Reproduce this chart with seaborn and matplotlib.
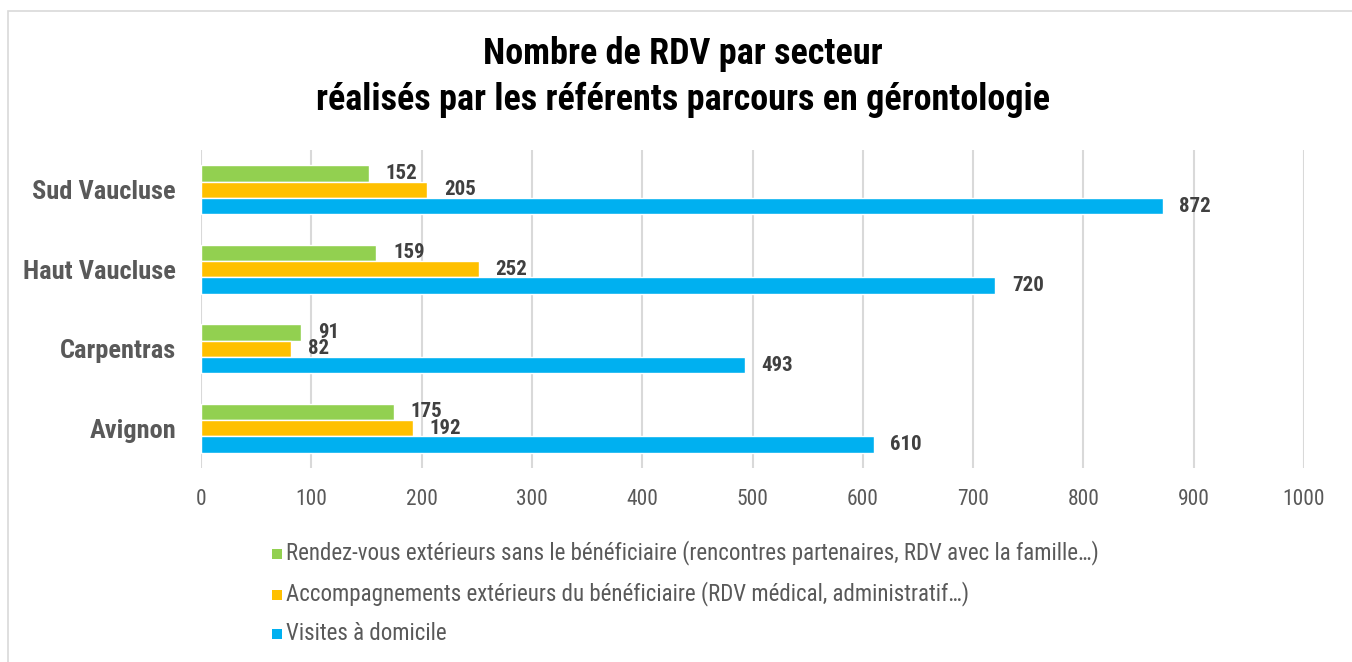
import matplotlib
matplotlib.use("Agg")
import os
import matplotlib.pyplot as plt
import seaborn as sns
import pandas as pd
from matplotlib.patches import Rectangle, Patch
from matplotlib import font_manager
from matplotlib.font_manager import FontProperties

# Données
secteurs = ["Sud Vaucluse", "Haut Vaucluse", "Carpentras", "Avignon"]
series = [
    "Rendez-vous extérieurs sans le bénéficiaire (rencontres partenaires, RDV avec la famille…)",
    "Accompagnements extérieurs du bénéficiaire (RDV médical, administratif…)",
    "Visites à domicile",
]
rdv_exterieurs = [152, 159, 91, 175]
accompagnements = [205, 252, 82, 192]
visites_domicile = [872, 720, 493, 610]
couleurs = ["#92D050", "#FFC000", "#00B0F0"]
x_ticks = [0, 100, 200, 300, 400, 500, 600, 700, 800, 900, 1000]

df = pd.DataFrame({
    "secteur": secteurs * 3,
    "type": [series[0]] * 4 + [series[1]] * 4 + [series[2]] * 4,
    "valeur": rdv_exterieurs + accompagnements + visites_domicile,
})

sns.set_theme(style="white")
plt.rcParams["font.family"] = ["Liberation Sans", "DejaVu Sans"]

# police étroite (proche de Arial Narrow)
files = {os.path.basename(f): f for f in font_manager.findSystemFonts()}
candidats = [
    ("LiberationSansNarrow-Regular.ttf", "LiberationSansNarrow-Bold.ttf"),
    ("RobotoCondensed-Regular.ttf", "RobotoCondensed-Bold.ttf"),
    ("DejaVuSansCondensed.ttf", "DejaVuSansCondensed-Bold.ttf"),
]
fp_reg = FontProperties(family="Liberation Sans")
fp_bold = FontProperties(family="Liberation Sans", weight="bold")
for r, b in candidats:
    if r in files and b in files:
        fp_reg, fp_bold = FontProperties(fname=files[r]), FontProperties(fname=files[b])
        break

fig = plt.figure(figsize=(13.52, 6.62), dpi=100)
ax = fig.add_axes([201 / 1352, 1 - 468 / 662, (1304 - 201) / 1352, (468 - 150) / 662])

sns.barplot(data=df, y="secteur", x="valeur", hue="type", order=secteurs,
            hue_order=series, palette=couleurs, orient="h", width=0.62,
            saturation=1, ax=ax, legend=False)

for cont in ax.containers:
    ax.bar_label(cont, padding=12, fontproperties=fp_bold, fontsize=15, color="#404040")

ax.set_xlim(0, 1000)
ax.set_ylim(3.5, -0.5)
ax.set_xticks(x_ticks)
ax.set_xticklabels([str(t) for t in x_ticks], fontproperties=fp_reg, fontsize=15.5, color="#595959")
ax.tick_params(axis="x", length=0, pad=15)
ax.tick_params(axis="y", length=0, pad=18)
ax.set_yticks(range(len(secteurs)))
ax.set_yticklabels(secteurs, fontproperties=fp_bold, fontsize=19, color="#595959")
ax.set_xlabel("")
ax.set_ylabel("")
ax.grid(axis="x", color="#D9D9D9", linewidth=1.5)
ax.set_axisbelow(True)
for s in ax.spines.values():
    s.set_visible(False)

fig.text(0.505, 1 - 77 / 662, "Nombre de RDV par secteur\nréalisés par les référents parcours en gérontologie",
         ha="center", va="center", fontproperties=fp_bold, fontsize=26, color="black",
         linespacing=1.35)

handles = [Patch(facecolor=c, edgecolor="none") for c in couleurs]
leg = fig.legend(handles, series, loc="upper left", bbox_to_anchor=(264 / 1352, 1 - 532 / 662),
                 frameon=False, prop=fp_reg, labelcolor="#595959", handlelength=0.55,
                 handleheight=0.55, handletextpad=0.3, labelspacing=0.95, borderpad=0)
for t in leg.get_texts():
    t.set_fontsize(16.5)

fig.patches.append(Rectangle((8 / 1352, -0.1), 1.5, 1 - 11 / 662 + 0.1,
                             transform=fig.transFigure, fill=False,
                             edgecolor="#D9D9D9", linewidth=1.2))

fig.savefig("out.png", dpi=100)
